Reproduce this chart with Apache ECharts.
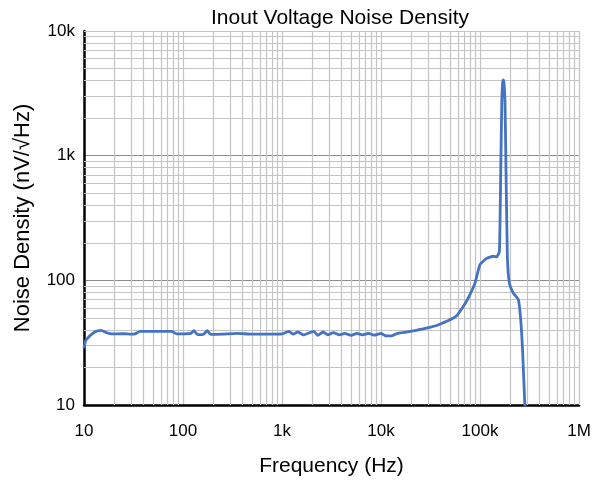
<!DOCTYPE html>
<html>
<head>
<meta charset="utf-8">
<script src="https://cdn.jsdelivr.net/npm/echarts@6/dist/echarts.min.js"></script>
<style>html,body{margin:0;padding:0;background:#fff}#c{width:599px;height:485px}</style>
</head>
<body>
<div id="c"></div>
<script>
// Data (frequency in Hz, noise density in nV/√Hz)
const freqs = [10, 10.4, 10.8, 11.5, 12.9, 14.8, 17, 19, 25, 30, 32.7, 36.8, 45, 60, 76.9, 86, 100, 120, 129, 140, 160, 176, 190, 250, 350, 500, 700, 1000, 1175, 1300, 1450, 1650, 1900, 2100, 2300, 2600, 2900, 3300, 3800, 4300, 5000, 5700, 6500, 7500, 8500, 10000, 11000, 12800, 14000, 15600, 18000, 22000, 26600, 31000, 36500, 42000, 49800, 58000, 68000, 76000, 89000, 100000, 117000, 136000, 147000, 157000, 162000, 166000, 169000, 172000, 175000, 179000, 183000, 189000, 198000, 217000, 244000, 258000, 270000, 283000, 286000];
const noise = [28.5, 33, 34.1, 36, 38.6, 39.7, 38, 37.2, 37.3, 37, 37.2, 38.9, 38.9, 38.9, 38.9, 37.2, 37.2, 37.5, 39.5, 36.7, 36.8, 39.5, 36.8, 37, 37.6, 37, 37, 37.2, 38.9, 37, 38.5, 36.5, 38, 39, 36.2, 38.5, 36.5, 38, 36.5, 37.5, 36.2, 37.5, 36.5, 37.5, 36.3, 37.5, 36, 35.8, 37, 37.9, 38.5, 39.5, 40.8, 42, 43.4, 45.5, 48.3, 52, 62, 72, 95, 134, 150, 156, 154, 170, 771, 2655, 3800, 4055, 3800, 2655, 771, 156, 95, 79, 70, 48, 26, 10.5, 9.5];
const xTickLabels = ['10', '100', '1k', '10k', '100k', '1M'];
const yTickLabels = ['10', '100', '1k', '10k'];
const xMinorGrid = [20,30,40,50,60,70,80,90, 200,300,400,500,600,700,800,900, 2000,3000,4000,5000,6000,7000,8000,9000, 20000,30000,40000,50000,60000,70000,80000,90000, 200000,300000,400000,500000,600000,700000,800000,900000, 1000000];
const yMinorGrid = [20,30,40,50,60,70,80,90, 200,300,400,500,600,700,800,900, 2000,3000,4000,5000,6000,7000,8000,9000, 10000];

const FONT = '"Liberation Sans", Arial, sans-serif';
const chart = echarts.init(document.getElementById('c'));
const minorStyle = {color: '#c4c4c4', width: 1.2, type: 'solid'};
const gridLines = xMinorGrid.map(v => ({xAxis: v, lineStyle: minorStyle}))
  .concat(yMinorGrid.map(v => ({yAxis: v, lineStyle: minorStyle})));

chart.setOption({
  animation: false,
  backgroundColor: '#fff',
  title: {
    text: 'Inout Voltage Noise Density',
    left: 335, top: 3, textAlign: 'center',
    textStyle: {fontFamily: FONT, fontSize: 21, fontWeight: 'normal', color: '#000'}
  },
  grid: {left: 84, right: 20, top: 31, bottom: 80, containLabel: false},
  xAxis: {
    type: 'log', logBase: 10, min: 10, max: 1000000, interval: 1,
    name: 'Frequency (Hz)', nameLocation: 'middle', nameGap: 51,
    nameTextStyle: {fontFamily: FONT, fontSize: 21, color: '#000'},
    axisLine: {show: true, onZero: false, lineStyle: {color: '#000', width: 2.5}},
    axisTick: {show: false},
    axisLabel: {
      fontFamily: FONT, fontSize: 17, color: '#000', margin: 18,
      formatter: v => xTickLabels[Math.round(Math.log10(v)) - 1]
    },
    splitLine: {show: true, showMaxLine: false, lineStyle: {color: '#c4c4c4', width: 1.2}}
  },
  yAxis: {
    type: 'log', logBase: 10, min: 10, max: 10000, interval: 1,
    name: 'Noise Density (nV/√Hz)', nameLocation: 'middle', nameGap: 50, nameRotate: 90,
    nameTextStyle: {fontFamily: FONT, fontSize: 22, color: '#000'},
    axisLine: {show: true, onZero: false, lineStyle: {color: '#000', width: 2.5}},
    axisTick: {show: false},
    axisLabel: {
      fontFamily: FONT, fontSize: 17, color: '#000', margin: 9,
      formatter: v => yTickLabels[Math.round(Math.log10(v)) - 1]
    },
    splitLine: {show: true, showMaxLine: false, lineStyle: {color: '#8c8c8c', width: 1.2}}
  },
  series: [
    {
      type: 'line', data: [], silent: true, z: 1,
      markLine: {silent: true, symbol: ['none', 'none'], label: {show: false}, animation: false, data: gridLines}
    },
    {
      type: 'line', z: 5,
      data: freqs.map((f, i) => [f, noise[i]]),
      showSymbol: false, smooth: 0.15, clip: true,
      lineStyle: {color: '#4472C4', width: 2.8},
      itemStyle: {color: '#4472C4'}
    }
  ]
});
</script>
</body>
</html>
